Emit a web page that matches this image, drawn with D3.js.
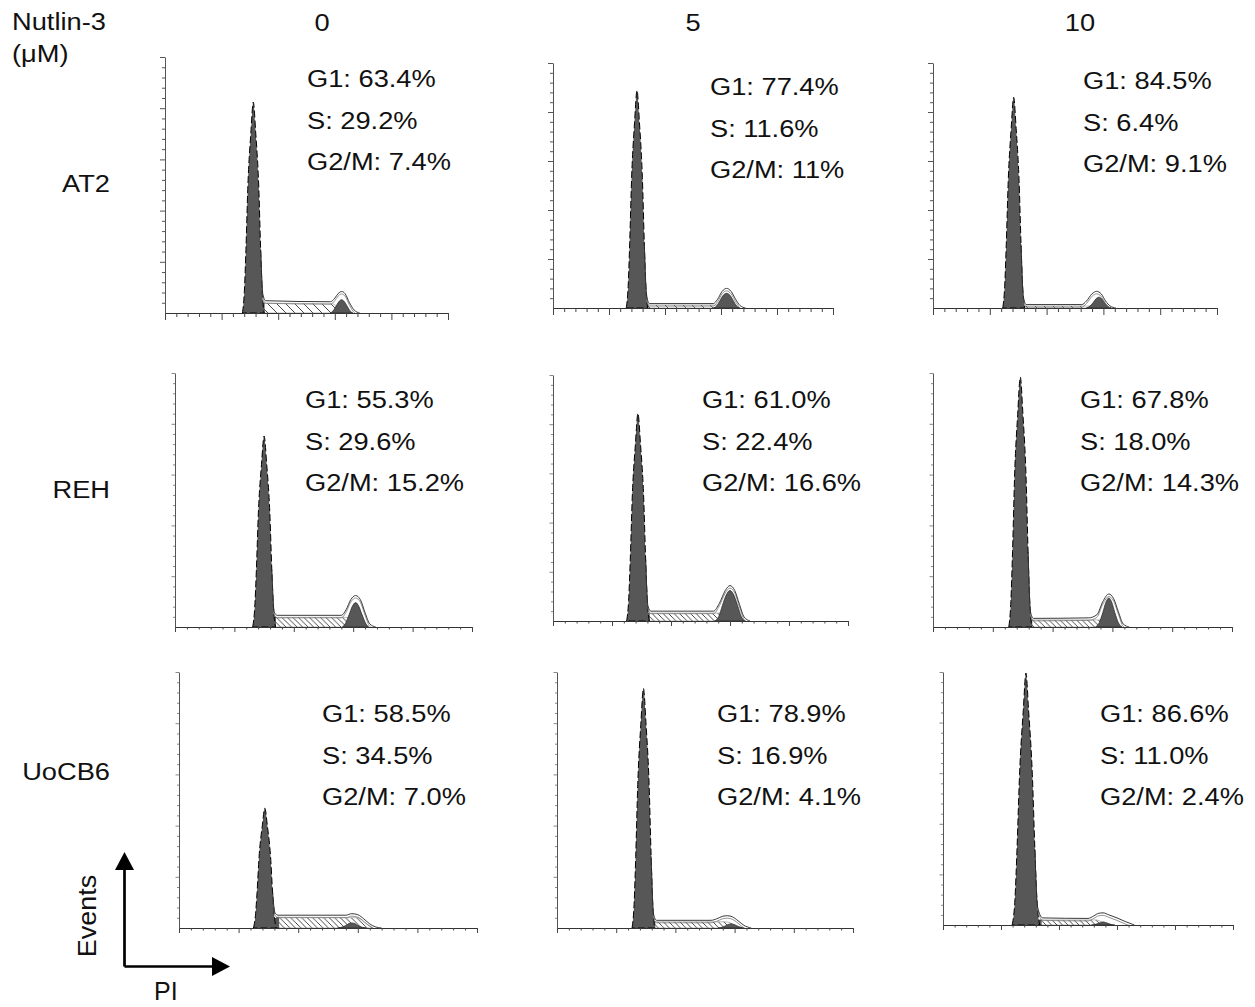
<!DOCTYPE html>
<html>
<head>
<meta charset="utf-8">
<script src="https://cdn.jsdelivr.net/npm/d3@7/dist/d3.min.js"></script>
<style>
body { margin: 0; background: #fff; }
text { font-family: "Liberation Sans", Arial, sans-serif; fill: #111; }
</style>
</head>
<body>
<script>
"use strict";

(function() {

const width = 1255;
const height = 1007;

// labels
const cellLines = ["AT2", "REH", "UoCB6"];
const doses = ["0", "5", "10"];
const g1Text = ["63.4%", "77.4%", "84.5%", "55.3%", "61.0%", "67.8%", "58.5%", "78.9%", "86.6%"];
const sText  = ["29.2%", "11.6%", "6.4%", "29.6%", "22.4%", "18.0%", "34.5%", "16.9%", "11.0%"];
const g2Text = ["7.4%", "11%", "9.1%", "15.2%", "16.6%", "14.3%", "7.0%", "4.1%", "2.4%"];

// channel (0-250) vs events (0-250)
const g1Peaks = [
  [[68.4,0],[70.1,21],[71.5,62],[73.2,124],[75.8,175],[78,206],[80.2,175],[82.8,124],[84.5,62],[85.9,21],[87.6,0]],
  [[65.4,0],[67.1,22],[68.5,67],[70.2,133],[72.8,189],[75,222],[77.2,189],[79.8,133],[81.5,67],[82.9,22],[84.6,0]],
  [[61.4,0],[63.1,22],[64.5,65],[66.2,129],[68.8,183],[71,215],[73.2,183],[75.8,129],[77.5,65],[78.9,22],[80.6,0]],
  [[65.4,0],[67.1,19],[68.5,56],[70.2,113],[72.8,160],[75,188],[77.2,160],[79.8,113],[81.5,56],[82.9,19],[84.6,0]],
  [[62.4,0],[64.1,21],[65.5,63],[67.2,127],[69.8,179],[72,211],[74.2,179],[76.8,127],[78.5,63],[79.9,21],[81.6,0]],
  [[63.4,0],[65.1,25],[66.5,74],[68.2,148],[70.8,209],[73,246],[75.2,209],[77.8,148],[79.5,74],[80.9,25],[82.6,0]],
  [[62.4,0],[64.1,12],[65.5,35],[67.2,70],[69.8,99],[72,117],[74.2,99],[76.8,70],[78.5,35],[79.9,12],[81.6,0]],
  [[63.4,0],[65.1,23],[66.5,70],[68.2,140],[70.8,199],[73,234],[75.2,199],[77.8,140],[79.5,70],[80.9,23],[82.6,0]],
  [[59.6,0],[62,25],[63.8,75],[66,149],[69.2,212],[71.5,249],[73.8,212],[77,149],[79.2,75],[81,25],[83.4,0]]
];

const g2Peaks = [
  [[146,0],[148.5,2],[151,6.5],[153.5,11],[156,13],[158.5,11],[161,6.5],[163.5,2],[166,0]],
  [[143,0],[146,2],[149,7.5],[152,13],[155,15],[158,13],[161,7.5],[164,2],[167,0]],
  [[135,0],[138,1.7],[141,5.5],[143.5,9.4],[146,11],[148.5,9.4],[151,5.5],[154,1.7],[157,0]],
  [[141,0],[143.5,3.6],[146.5,12],[149.3,20.4],[152,24],[154.7,20.4],[157.5,12],[160.5,3.6],[163,0]],
  [[137,0],[140.5,4.6],[143.5,15.5],[146.8,26.4],[150,31],[153.2,26.4],[156.5,15.5],[159.5,4.6],[163,0]],
  [[136,0],[139,4.3],[142,14.3],[144.5,24.2],[147,28.5],[149.5,24.2],[152,14.3],[155,4.3],[158,0]],
  [[133,0],[136.5,0.8],[140,2.5],[142.5,4.3],[145,5],[147.5,4.3],[150,2.5],[153.5,0.8],[157,0]],
  [[136,0],[139,0.6],[142,2],[144.5,3.4],[147,4],[149.5,3.4],[152,2],[155,0.6],[158,0]],
  [[128,0],[131,0.5],[133.5,1.5],[136,2.5],[138,3],[140,2.5],[142.5,1.5],[145,0.5],[148,0]]
];

const sPhase = [
  [[79,0],[83,5],[87,9.5],[148,9],[153,5],[160,0]],
  [[76,0],[80,1.5],[84,3],[147,3],[152,1.5],[159,0]],
  [[72,0],[76,1],[80,2],[138,2],[143,1],[150,0]],
  [[76,0],[80,5],[84,9.5],[144,9.5],[149,5],[156,0]],
  [[73,0],[77,4],[81,8],[142,8],[147,4],[154,0]],
  [[74,0],[78,3.5],[82,7],[139,7],[144,3.5],[151,0]],
  [[73,0],[78,6],[83,10.5],[150,10],[156,5],[163,0]],
  [[74,0],[78,3],[82,6],[143,6],[150,3],[157,0]],
  [[73,0],[78,2.5],[84,5],[132,5],[138,2.5],[145,0]]
];

const histLines = [
  [[84.5,62],[86.5,18],[89,12],[146,11],[150,14.5],[153,19],[156,21],[159,19],[163,10],[167,3],[172,0]],
  [[81.5,67],[83.5,14],[86,4.5],[143,4.5],[147,9],[151,17],[155,20],[159,17],[163,9],[167,2.5],[172,0]],
  [[77.5,65],[79.5,12],[82,3.5],[131,3.5],[135,7],[140,14.5],[144,17],[148,14.5],[152,7],[156,2],[161,0]],
  [[81.5,56],[83.5,15],[86,11.5],[140,11.5],[144,17],[148,27],[152,31],[156,27],[160,14],[164,3],[169,0]],
  [[78.5,63],[80.5,15],[83,10],[136,10],[141,18],[146,31],[150,36],[154,31],[158,17],[162,4],[167,0]],
  [[79.5,74],[81.5,15],[84,8.5],[130,9],[137,12],[142,25],[147,32.5],[151,28],[155,15],[159,3],[164,0]],
  [[78.5,35],[80.5,15],[83,12.5],[140,12.5],[145,14],[150,13],[155,9],[160,4],[165,1],[170,0]],
  [[79.5,70],[81.5,14],[84,7.5],[130,7.5],[135,9],[140,11.5],[144,12],[148,11],[153,7],[158,2.5],[164,0]],
  [[79.2,75],[81.5,18],[86,7],[125,6.5],[130,9],[134,11.5],[138,12],[143,10],[150,7],[157,3.5],[165,0]]
];

// layout: axis box [left, top, width, height] and first stat line [x, baseline]
const panelBox = [
  [165,57,283,256], [553,63,280,245], [933,63,284,245],
  [175,373,297,254], [553,375,295,246], [933,373,299,254],
  [179,672,298,256], [557,672,296,256], [943,672,290,253]
];
const statPos = [
  [307,87], [710,95], [1083,89],
  [305,408], [702,408], [1080,408],
  [322,722], [717,722], [1100,722]
];
const doseX = [322, 693, 1080];
const rowLabelY = [192, 498, 780];

const stretch = 1.16;
const fontSize = 23.5;
const darkFill = "#575757";

let svg = d3.select("body").append("svg")
    .attr("width", width)
    .attr("height", height);

let defs = svg.append("defs");
[["hatch0", 9], ["hatch1", 5.5]].forEach(function(h) {
    let s = h[1];
    defs.append("pattern")
        .attr("id", h[0])
        .attr("patternUnits", "userSpaceOnUse")
        .attr("width", s)
        .attr("height", s)
      .append("path")
        .attr("d", `M0,0L${s},${s}M${-s/4},${s*3/4}L${s/4},${s*5/4}M${s*3/4},${-s/4}L${s*5/4},${s/4}`)
        .attr("stroke", "#333")
        .attr("stroke-width", 0.9);
});

function addText(x, y, str, anchor, size) {
    return svg.append("text")
        .attr("transform", `translate(${x},${y}) scale(${stretch},1)`)
        .attr("text-anchor", anchor || "start")
        .style("font-size", (size || fontSize) + "px")
        .text(str);
}

// header
addText(12, 30, "Nutlin-3");
addText(12, 62, "(\u03bcM)");
doses.forEach(function(d, i) { addText(doseX[i], 31, d, "middle"); });
cellLines.forEach(function(c, i) { addText(110, rowLabelY[i], c, "end"); });

for (let i = 0; i < 9; i++) {
    let row = Math.floor(i / 3);
    let b = panelBox[i];
    let g = svg.append("g");

    let x = d3.scaleLinear().domain([0, 250]).range([b[0], b[0] + b[2]]);
    let y = d3.scaleLinear().domain([0, 250]).range([b[1] + b[3], b[1]]);

    let area = d3.area()
        .x(d => x(d[0]))
        .y0(y(0))
        .y1(d => y(d[1]))
        .curve(d3.curveMonotoneX);
    let line = d3.line()
        .x(d => x(d[0]))
        .y(d => y(d[1]))
        .curve(d3.curveMonotoneX);

    // keep everything above the baseline
    let boxClip = "box" + i;
    defs.append("clipPath").attr("id", boxClip)
      .append("rect")
        .attr("x", b[0]).attr("y", b[1] - 5)
        .attr("width", b[2]).attr("height", b[3] + 5);
    let plot = g.append("g").attr("clip-path", `url(#${boxClip})`);

    // S phase
    plot.append("path")
        .attr("d", area(sPhase[i]))
        .attr("fill", row === 0 ? "url(#hatch0)" : "url(#hatch1)")
        .attr("stroke", "#777")
        .attr("stroke-width", 0.5);

    // dark overlap at the G1 foot
    let clipId = "clip" + i;
    defs.append("clipPath").attr("id", clipId)
      .append("rect")
        .attr("x", x(sPhase[i][0][0]))
        .attr("y", b[1])
        .attr("width", x(sPhase[i][2][0] + 1) - x(sPhase[i][0][0]))
        .attr("height", b[3]);
    plot.append("path")
        .attr("d", area(sPhase[i]))
        .attr("clip-path", `url(#${clipId})`)
        .attr("fill", darkFill)
        .attr("stroke", "#222")
        .attr("stroke-width", 0.6);

    // G1 and G2
    plot.append("path")
        .attr("d", area(g1Peaks[i]))
        .attr("fill", darkFill)
        .attr("stroke", "#000")
        .attr("stroke-width", 1)
        .attr("stroke-dasharray", "7,3");
    plot.append("path")
        .attr("d", area(g2Peaks[i]))
        .attr("fill", darkFill)
        .attr("stroke", "#222")
        .attr("stroke-width", 0.7);

    // raw histogram and fit outline
    plot.append("path")
        .attr("d", line(histLines[i]))
        .attr("transform", "translate(0,2.5)")
        .attr("fill", "none")
        .attr("stroke", "#777")
        .attr("stroke-width", 0.8);
    plot.append("path")
        .attr("d", line(histLines[i]))
        .attr("fill", "none")
        .attr("stroke", "#222")
        .attr("stroke-width", 0.9);

    // axes
    let tickVals = d3.range(0, 251, 10);
    let xAxis = g.append("g")
        .attr("transform", `translate(0,${y(0)})`)
        .call(d3.axisBottom(x).tickValues(tickVals).tickFormat("")
            .tickSizeInner(row === 0 ? 4 : 2.5).tickSizeOuter(0));
    xAxis.selectAll(".tick line")
        .filter(d => d % 50 === 0)
        .attr("y2", row === 0 ? 7 : 5);

    let yAxis = g.append("g")
        .attr("transform", `translate(${x(0)},0)`)
        .call(d3.axisLeft(y).tickValues(tickVals.slice(1)).tickFormat("")
            .tickSizeInner(row === 0 ? 3 : 2).tickSizeOuter(0));
    yAxis.selectAll(".tick line")
        .filter(d => d % 50 === 0)
        .attr("x2", row === 0 ? -5 : -3.5);

    xAxis.select(".domain").attr("stroke", "#333");
    yAxis.select(".domain").attr("stroke", "#555");
    xAxis.selectAll(".tick line").attr("stroke", "#444");
    yAxis.selectAll(".tick line").attr("stroke", row === 0 ? "#555" : "#888");

    // percentages
    let p = statPos[i];
    addText(p[0], p[1], "G1: " + g1Text[i]);
    addText(p[0], p[1] + 41.5, "S: " + sText[i]);
    addText(p[0], p[1] + 83, "G2/M: " + g2Text[i]);
}

// Events / PI arrows
let ax = 124.5, ay = 966.5;
svg.append("path")
    .attr("d", `M${ax},${ay}V868M${ax},${ay}H212`)
    .attr("stroke", "#000")
    .attr("stroke-width", 2.7)
    .attr("fill", "none");
svg.append("path")
    .attr("d", `M${ax},852L${ax - 9.5},870L${ax + 9.5},870Z`)
    .attr("fill", "#000");
svg.append("path")
    .attr("d", `M230,${ay}L212,${ay - 9.5}L212,${ay + 9.5}Z`)
    .attr("fill", "#000");

svg.append("text")
    .attr("transform", `translate(96,916) rotate(-90) scale(1.08,1)`)
    .attr("text-anchor", "middle")
    .style("font-size", "25px")
    .text("Events");
svg.append("text")
    .attr("x", 154)
    .attr("y", 1000)
    .style("font-size", "25px")
    .text("PI");

})();
</script>
</body>
</html>
